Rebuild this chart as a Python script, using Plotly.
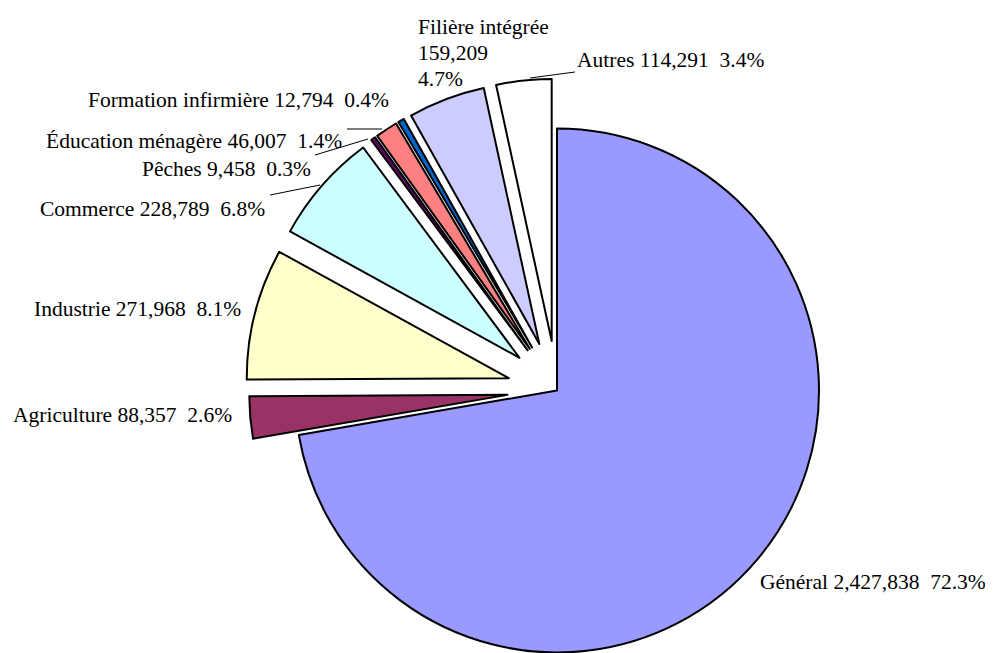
import math
import plotly.graph_objects as go

# ---- data ----
labels = ["Général", "Agriculture", "Industrie", "Commerce", "Pêches",
          "Éducation ménagère", "Formation infirmière", "Filière intégrée", "Autres"]
values = [2427838, 88357, 271968, 228789, 9458, 46007, 12794, 159209, 114291]
percents = ["72.3%", "2.6%", "8.1%", "6.8%", "0.3%", "1.4%", "0.4%", "4.7%", "3.4%"]

# ---- style ----
colors = ["#9999FF", "#993366", "#FFFFCC", "#CCFFFF", "#660066",
          "#FF8080", "#0066CC", "#CCCCFF", "#FFFFFF"]
pulls = [0, 0.19, 0.19, 0.19, 0.19, 0.19, 0.19, 0.19, 0.19]

# page body has an 8px margin; figure is sized to fill the rest of the window
OFF = 8
W, H = 993 - OFF, 653 - OFF
CX, CY, R = 557 - OFF, 390.5 - OFF, 262
FONT = dict(family="Liberation Serif", size=21.5, color="black")

def px(x):
    return (x - OFF) / W

def py(y):
    return 1 - (y - OFF) / H

total = sum(values)
fig = go.Figure()
cum = 0
for i, v in enumerate(values):
    theta = 2 * math.pi * (cum + v / 2) / total
    cum += v
    d = pulls[i] * R
    cx = CX + d * math.sin(theta)
    cy = CY - d * math.cos(theta)
    h = min(R, cy, H - cy, cx, W - cx)
    fig.add_trace(go.Pie(
        values=values, labels=labels, sort=False, direction="clockwise", rotation=0,
        marker=dict(colors=[colors[j] if j == i else "rgba(0,0,0,0)" for j in range(len(values))],
                    line=dict(color="black", width=[2 if j == i else 0 for j in range(len(values))])),
        textinfo="none", hoverinfo="label+value+percent", showlegend=False,
        domain=dict(x=[(cx - h) / W, (cx + h) / W], y=[1 - (cy + h) / H, 1 - (cy - h) / H]),
    ))

def lab(i):
    return f"{labels[i]} {values[i]:,}\u00a0\u00a0{percents[i]}"

# label placements in reference pixels: (text, x, y, xanchor)
placements = [
    (lab(0), 988, 582, "right"),
    (lab(1), 234, 415, "right"),
    (lab(2), 243, 309, "right"),
    (lab(3), 267, 209, "right"),
    (lab(4), 313, 169, "right"),
    (lab(5), 344, 141, "right"),
    (lab(6), 391, 100, "right"),
    (lab(8), 575, 60, "left"),
    (labels[7], 416, 27, "left"),
    (f"{values[7]:,}", 416, 53, "left"),
    (percents[7], 416, 79, "left"),
]
annotations = [dict(text=t, x=px(x), y=py(y), xref="paper", yref="paper",
                    xanchor=xa, yanchor="middle", showarrow=False, font=FONT)
               for t, x, y, xa in placements]

leaders = [((347, 129), (382, 129)), ((315, 155), (368, 139)),
           ((270, 195), (320, 185)), ((575, 72), (530, 78))]
shapes = [dict(type="line", xref="paper", yref="paper", x0=px(a[0]), y0=py(a[1]),
               x1=px(b[0]), y1=py(b[1]), line=dict(color="black", width=1))
          for a, b in leaders]

fig.update_layout(width=W, height=H, autosize=False, margin=dict(l=0, r=0, t=0, b=0),
                  paper_bgcolor="white", plot_bgcolor="white",
                  annotations=annotations, shapes=shapes, font=FONT)
fig.write_html("out.html")
